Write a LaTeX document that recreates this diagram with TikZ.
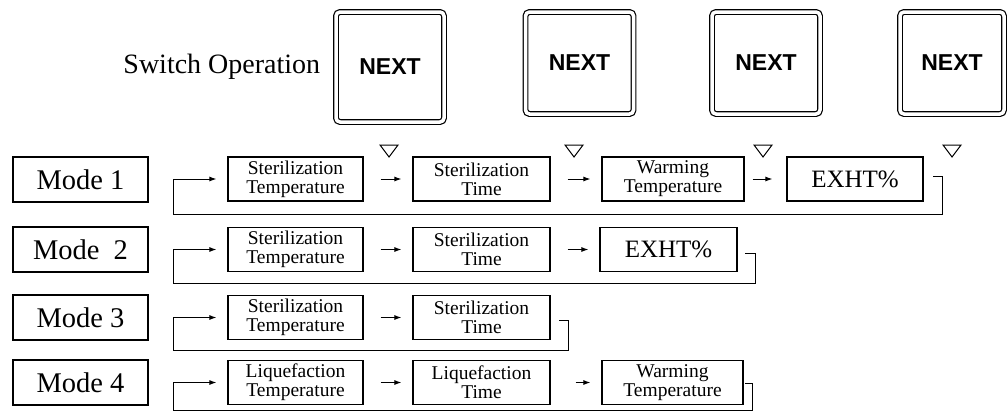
\documentclass[tikz,border=0pt]{standalone}
\usepackage{fontspec}
\setmainfont{Liberation Serif}
\newfontfamily\keyfont{Liberation Sans}
\usetikzlibrary{arrows.meta,calc,positioning}

\begin{document}
\begin{tikzpicture}[x=1pt,y=-1pt,
  modebox/.style={draw,line width=1.2pt,minimum width=135pt,minimum height=45pt,inner sep=0pt,font=\fontsize{28.5}{28.5}\selectfont},
  stepbox/.style={draw,line width=1.2pt,minimum width=135pt,minimum height=44pt,inner sep=0pt,align=center,font=\fontsize{19.5}{19}\selectfont},
  valbox/.style={stepbox,font=\fontsize{25}{25}\selectfont},
  keybox/.style={draw,double,double distance=3.5pt,line width=1.2pt,rounded corners=4pt,minimum width=108pt,minimum height=102pt,inner sep=0pt,font=\keyfont\bfseries\fontsize{23}{23}\selectfont},
  flow/.style={-{Latex[length=7pt,width=5pt]},line width=1pt,shorten <=17pt,shorten >=11pt},
  back/.style={-{Latex[length=7pt,width=5pt]},line width=1pt,shorten >=11pt}]
\useasboundingbox (0,0) rectangle (1008,413);

\node[keybox,minimum height=110pt] (k1) at (390,67) {NEXT};
\node[keybox] (k2) at (579.5,63) {NEXT};
\node[keybox] (k3) at (766,63) {NEXT};
\node[keybox,minimum width=104pt] (k4) at (952,63) {NEXT};
\node[left=15pt of k1,inner sep=0pt,font=\fontsize{28}{28}\selectfont] (sw) {Switch Operation};

\foreach \x in {389,574,763,952}
  \draw[line width=1pt] (\x-9,145) -- (\x+9,145) -- (\x,157) -- cycle;

\node[modebox] (m1) at (80.5,179.5) {Mode 1};
\node[modebox] (m2) at (80.5,249.5) {Mode\ \ 2};
\node[modebox] (m3) at (80.5,317.5) {Mode 3};
\node[modebox] (m4) at (80.5,382.5) {Mode 4};

\node[stepbox] (s11) at (295.5,179) {Sterilization\\Temperature};
\node[stepbox,minimum width=137pt] (s12) at (481.5,179) {Sterilization\\Time};
\node[stepbox,minimum width=142pt] (s13) at (673,179) {Warming\\Temperature};
\node[valbox,minimum width=136pt] (s14) at (855,179) {EXHT\%};

\node[stepbox] (s21) at (295.5,249.5) {Sterilization\\Temperature};
\node[stepbox,minimum width=137pt] (s22) at (481.5,249.5) {Sterilization\\Time};
\node[valbox,minimum width=137pt] (s23) at (668.5,249.5) {EXHT\%};

\node[stepbox] (s31) at (295.5,317.5) {Sterilization\\Temperature};
\node[stepbox,minimum width=137pt] (s32) at (481.5,317.5) {Sterilization\\Time};

\node[stepbox] (s41) at (295.5,382.5) {Liquefaction\\Temperature};
\node[stepbox,minimum width=137pt] (s42) at (481.5,382.5) {Liquefaction\\Time};
\node[stepbox,minimum width=141pt] (s43) at (672.5,382.5) {Warming\\Temperature};

\draw[flow] (s11) -- (s12);
\draw[flow] (s12) -- (s13);
\draw[flow,shorten <=8pt,shorten >=14pt] (s13) -- (s14);
\draw[flow] (s21) -- (s22);
\draw[flow] (s22) -- (s23);
\draw[flow] (s31) -- (s32);
\draw[flow] (s41) -- (s42);
\draw[flow,shorten <=25pt] (s42) -- (s43);

\coordinate (a1) at (933,176);
\coordinate (b1) at (942,214);
\coordinate (c1) at (173,179);
\coordinate (a2) at (745,253);
\coordinate (b2) at (755,283);
\coordinate (c2) at (173,249.5);
\coordinate (a3) at (559,320);
\coordinate (b3) at (568,350);
\coordinate (c3) at (173,317.5);
\coordinate (a4) at (745,383);
\coordinate (b4) at (752,410);
\coordinate (c4) at (173,382.5);

\draw[back] (a1) -| (b1) -| (c1) -- (s11);
\draw[back] (a2) -| (b2) -| (c2) -- (s21);
\draw[back] (a3) -| (b3) -| (c3) -- (s31);
\draw[back] (a4) -| (b4) -| (c4) -- (s41);
\end{tikzpicture}
\end{document}
